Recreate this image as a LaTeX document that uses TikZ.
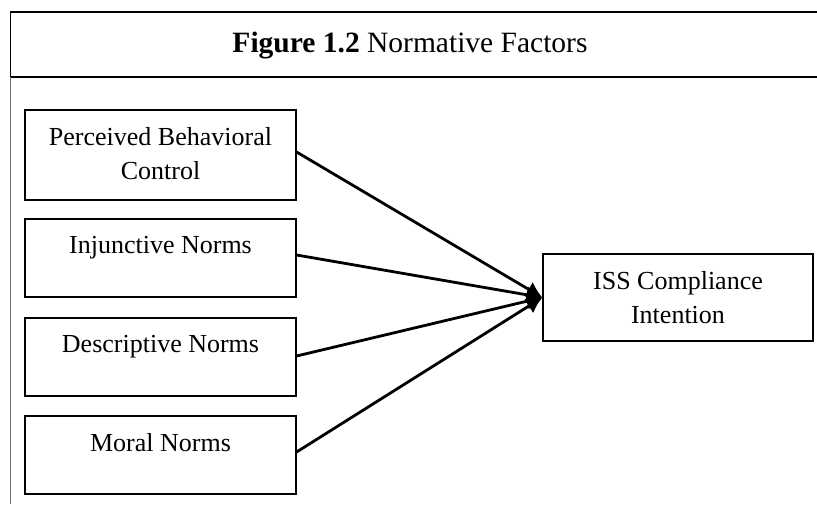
\documentclass[tikz,border=0pt]{standalone}
\usepackage{fontspec}
\setmainfont{Liberation Serif}
\usetikzlibrary{arrows.meta}

\tikzset{
  factor/.style={draw=black, line width=1.2pt, minimum width=271pt, inner sep=0pt},
  target/.style={draw=black, line width=1.2pt, minimum width=270pt, minimum height=87pt, inner sep=0pt},
  boxtext/.style={anchor=north, inner sep=0pt, align=center,
                  font=\fontsize{26}{34}\selectfont},
  link/.style={line width=2.8pt, -{Latex[length=16pt,width=17pt]}},
  rule/.style={line width=1.4pt, draw=black},
}

\begin{document}
\begin{tikzpicture}[x=1pt, y=-1pt]
  \useasboundingbox (0,0) rectangle (817,504);

  % header cell and the frame round the figure
  \draw[rule] (817,12) -- (10.5,12) -- (10.5,77) -- (817,77);
  \draw[line width=1.2pt, draw=black!55] (10.5,77) -- (10.5,504);
  \node[anchor=base, inner sep=0pt, font=\fontsize{29.5}{36}\selectfont] (title)
    at (410,52) {\textbf{Figure 1.2} Normative Factors};

  % the four normative factors
  \node[factor, minimum height=90pt] (pbc) at (160.5,155) {};
  \node[factor, minimum height=78pt] (inj) at (160.5,258) {};
  \node[factor, minimum height=78pt] (des) at (160.5,357) {};
  \node[factor, minimum height=78pt] (mor) at (160.5,455) {};

  \node[boxtext] (pbcT) at ([yshift=-17.5pt]pbc.north) {Perceived Behavioral\\Control};
  \node[boxtext] (injT) at ([yshift=-17.5pt]inj.north) {Injunctive Norms};
  \node[boxtext] (desT) at ([yshift=-17.5pt]des.north) {Descriptive Norms};
  \node[boxtext] (morT) at ([yshift=-17.5pt]mor.north) {Moral Norms};

  % outcome
  \node[target] (iss) at (678,297.5) {};
  \node[boxtext] (issT) at ([yshift=-18pt]iss.north) {ISS Compliance\\Intention};

  % paths
  \draw[link] ([yshift=3pt]pbc.east) -- (iss.west);
  \draw[link] ([yshift=3pt]inj.east) -- (iss.west);
  \draw[link] ([yshift=1pt]des.east) -- (iss.west);
  \draw[link] ([yshift=3pt]mor.east) -- (iss.west);
\end{tikzpicture}
\end{document}
